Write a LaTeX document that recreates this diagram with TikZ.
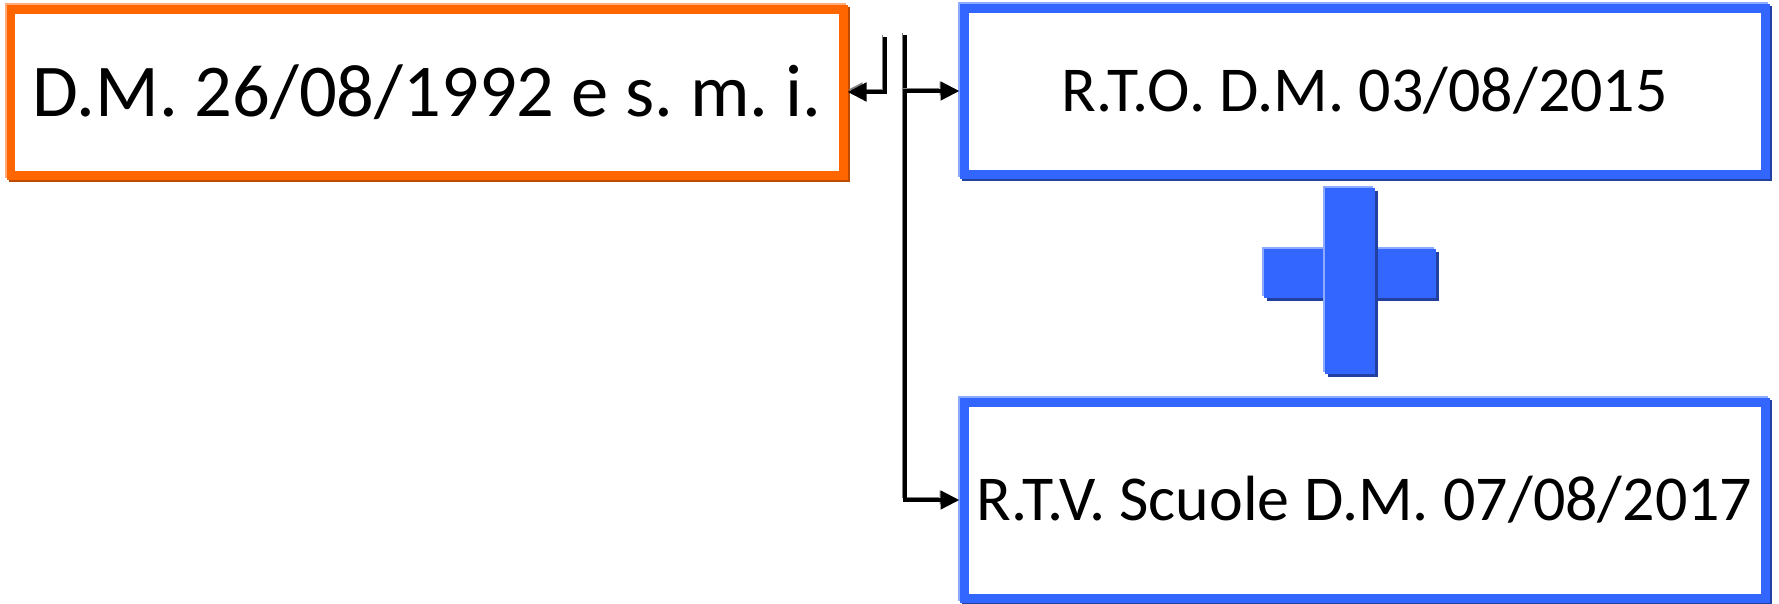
\documentclass[tikz,border=0pt]{standalone}
\usepackage{fontspec}
\setmainfont{Carlito}
\usetikzlibrary{arrows.meta}
\definecolor{dmorange}{RGB}{255,102,0}
\definecolor{dmorangedark}{RGB}{190,76,0}
\definecolor{dmorangelight}{RGB}{255,170,120}
\definecolor{rtblue}{RGB}{51,102,255}
\definecolor{rtbluedark}{RGB}{34,64,160}
\definecolor{rtbluelight}{RGB}{140,170,255}
\frenchspacing

\begin{document}
\begin{tikzpicture}[
	box/.style n args={3}{draw=#1, line width=2.56pt, fill=white, inner sep=0pt, align=center,
		preaction={draw=#3, transform canvas={shift={(-0.02,0.02)}}},
		preaction={draw=#2, transform canvas={shift={(0.02,-0.02)}}}},
	link/.style={line width=1.25pt, -{Triangle[length=1.9mm,width=1.8mm]},
		preaction={draw=gray, transform canvas={shift={(-0.025,0.025)}}}},
	]
	\useasboundingbox (0,0) rectangle (17.79,-6.03);
	% boxes
	\node[box={dmorange}{dmorangedark}{dmorangelight}, minimum width=8.32cm, minimum height=1.66cm,
		font=\fontsize{21.2pt}{24pt}\selectfont] (dm92) at (4.27,-0.92) {D.M. 26/08/1992 e s. m. i.};
	\node[box={rtblue}{rtbluedark}{rtbluelight}, minimum width=8.01cm, minimum height=1.66cm,
		font=\fontsize{18.2pt}{21pt}\selectfont] (rto) at (13.645,-0.91) {R.T.O. D.M. 03/08/2015};
	\node[box={rtblue}{rtbluedark}{rtbluelight}, minimum width=8.01cm, minimum height=1.96cm,
		font=\fontsize{18.2pt}{21pt}\selectfont] (rtv) at (13.645,-5.00) {R.T.V. Scuole D.M. 07/08/2017};
	% plus
	\foreach \cx/\cy/\w/\h in {13.50/-2.735/1.72/0.49, 13.50/-2.81/0.50/1.86} {
		\fill[rtbluelight] (\cx-\w/2-0.025,\cy-\h/2+0.025) rectangle (\cx+\w/2-0.025,\cy+\h/2+0.025);
		\fill[rtbluedark] (\cx-\w/2+0.025,\cy-\h/2-0.025) rectangle (\cx+\w/2+0.025,\cy+\h/2-0.025);
		\fill[rtblue] (\cx-\w/2,\cy-\h/2) rectangle (\cx+\w/2,\cy+\h/2);
	}
	% connectors
	\coordinate (back) at (8.85,-0.37);
	\coordinate (trunk) at (9.05,-0.35);
	\draw[link] (back) |- (dm92.east);
	\draw[link] (trunk) |- (rtv.west);
	\draw[link] (trunk |- rto.west) -- (rto.west);
\end{tikzpicture}
\end{document}
